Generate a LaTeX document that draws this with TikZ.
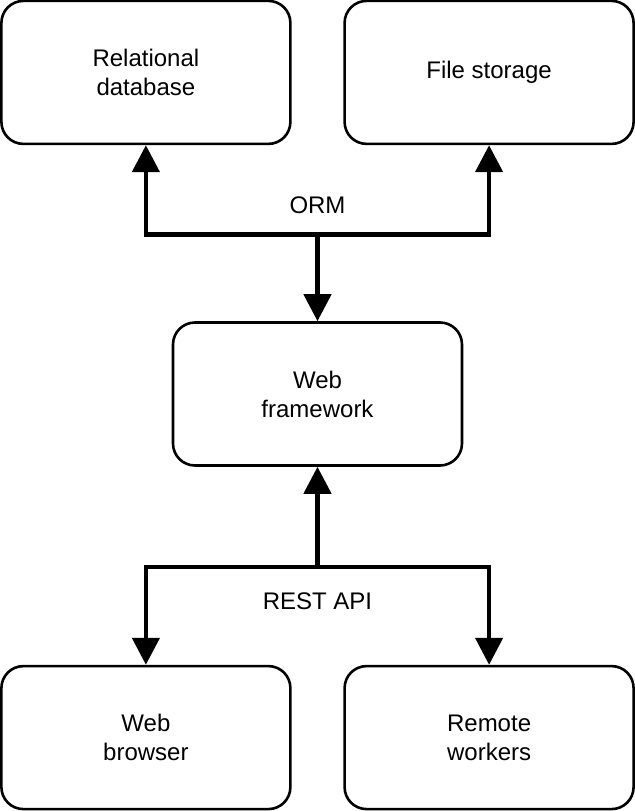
\documentclass[tikz,border=0pt]{standalone}
\usepackage{fontspec}
\setmainfont{Liberation Sans}
\usetikzlibrary{positioning,arrows.meta}

\begin{document}
\begin{tikzpicture}[
	box/.style={draw, line width=1.3pt, rounded corners=11pt, minimum width=144.5pt, minimum height=71.5pt, align=center, font=\fontsize{12}{14.5}\selectfont},
	link/.style={line width=2.3pt, -{Triangle[width=13.5pt,length=13.5pt]}},
	tag/.style={inner sep=0pt, font=\fontsize{12}{14.5}\selectfont}
]
	\useasboundingbox (-158.75pt,-208.5pt) rectangle (158.25pt,197pt);
	\node [box] (fw) {Web\\framework};
	\node [box, above left=88pt and -60pt of fw] (db) {Relational\\database};
	\node [box, above right=88pt and -60pt of fw] (fs) {File storage};
	\node [box, below left=99pt and -60pt of fw] (wb) {Web\\browser};
	\node [box, below right=99pt and -60pt of fw] (rw) {Remote\\workers};
	\coordinate [above=43.5pt of fw] (orm);
	\coordinate [below=50pt of fw] (api);
	\node [tag, above=10pt of orm] (ormtag) {ORM};
	\node [tag, below=13pt of api] (apitag) {REST API};

	\draw [link] (orm) -- (fw);
	\draw [link] (orm) -| (db);
	\draw [link] (orm) -| (fs);
	\draw [link] (api) -- (fw);
	\draw [link] (api) -| (wb);
	\draw [link] (api) -| (rw);
\end{tikzpicture}
\end{document}
